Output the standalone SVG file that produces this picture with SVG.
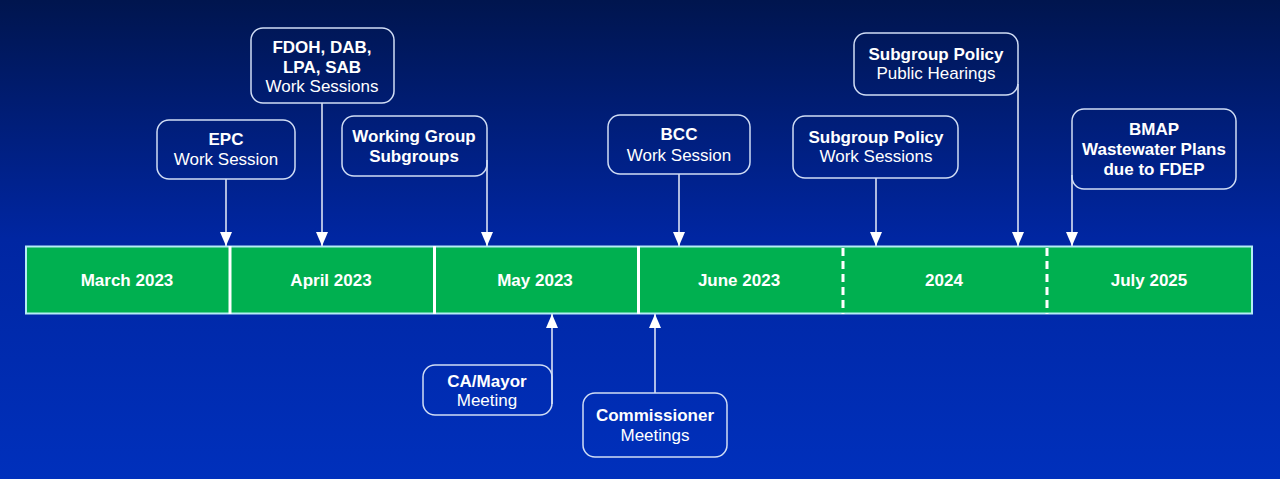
<svg xmlns="http://www.w3.org/2000/svg" width="1280" height="479" viewBox="0 0 1280 479">
<defs>
<linearGradient id="bg" x1="0" y1="0" x2="0" y2="1">
<stop offset="0" stop-color="#00154e"/>
<stop offset="0.5" stop-color="#0026a2"/>
<stop offset="1" stop-color="#0030bc"/>
</linearGradient>
<marker id="ah" markerUnits="userSpaceOnUse" markerWidth="14" markerHeight="12" viewBox="0 0 14 12" refX="14" refY="6" orient="auto-start-reverse">
<path d="M0,0 L14,6 L0,12 Z" fill="#ffffff"/>
</marker>
<style>
text{font-family:"Liberation Sans",Arial,sans-serif;fill:#ffffff;text-anchor:middle;font-size:17px}
.b{font-weight:bold}
.box{fill:none;stroke:#d0ddf5;stroke-width:1.5}
.div{stroke:#ffffff;stroke-width:3}
.dash{stroke:#ffffff;stroke-width:3;stroke-dasharray:8,5}
.con{stroke:#e8eefa;stroke-width:1.5;fill:none}
</style>
</defs>
<rect width="1280" height="479" fill="url(#bg)"/>

<g id="timeline">
<rect x="26" y="246.5" width="1226" height="67" fill="#00b050" stroke="#b4ecf4" stroke-width="2"/>
<line class="div" x1="230" y1="246" x2="230" y2="314"/>
<line class="div" x1="434.5" y1="246" x2="434.5" y2="314"/>
<line class="div" x1="638.5" y1="246" x2="638.5" y2="314"/>
<line class="dash" x1="843" y1="248" x2="843" y2="314"/>
<line class="dash" x1="1047" y1="248" x2="1047" y2="314"/>
<text class="b" x="127" y="286">March 2023</text>
<text class="b" x="331" y="286">April 2023</text>
<text class="b" x="535" y="286">May 2023</text>
<text class="b" x="739" y="286">June 2023</text>
<text class="b" x="944" y="286">2024</text>
<text class="b" x="1149" y="286">July 2025</text>
</g>

<g id="connectors">
<line class="con" x1="226" y1="179" x2="226" y2="246" marker-end="url(#ah)"/>
<line class="con" x1="322" y1="103" x2="322" y2="246" marker-end="url(#ah)"/>
<line class="con" x1="487" y1="160" x2="487" y2="246" marker-end="url(#ah)"/>
<line class="con" x1="679" y1="174" x2="679" y2="246" marker-end="url(#ah)"/>
<line class="con" x1="876" y1="178" x2="876" y2="246" marker-end="url(#ah)"/>
<line class="con" x1="1018" y1="84" x2="1018" y2="246" marker-end="url(#ah)"/>
<line class="con" x1="1072" y1="175" x2="1072" y2="246" marker-end="url(#ah)"/>
<line class="con" x1="552" y1="314" x2="552" y2="404" marker-start="url(#ah)"/>
<line class="con" x1="655" y1="314" x2="655" y2="393" marker-start="url(#ah)"/>
</g>

<g id="epc">
<rect class="box" x="157" y="120" width="138" height="59" rx="12"/>
<text class="b" x="226" y="145">EPC</text>
<text x="226" y="165">Work Session</text>
</g>
<g id="fdoh">
<rect class="box" x="251" y="28" width="143" height="75" rx="12"/>
<text class="b" x="322" y="53">FDOH, DAB,</text>
<text class="b" x="322" y="73">LPA, SAB</text>
<text x="322" y="92">Work Sessions</text>
</g>
<g id="working-group">
<rect class="box" x="342" y="116" width="145" height="60" rx="12"/>
<text class="b" x="414" y="142">Working Group</text>
<text class="b" x="414" y="162">Subgroups</text>
</g>
<g id="bcc">
<rect class="box" x="608" y="115" width="142" height="59" rx="12"/>
<text class="b" x="679" y="140">BCC</text>
<text x="679" y="161">Work Session</text>
</g>
<g id="subgroup-work">
<rect class="box" x="793" y="116" width="165" height="62" rx="12"/>
<text class="b" x="876" y="143">Subgroup Policy</text>
<text x="876" y="162">Work Sessions</text>
</g>
<g id="subgroup-hearings">
<rect class="box" x="854" y="33" width="164" height="62" rx="12"/>
<text class="b" x="936" y="60">Subgroup Policy</text>
<text x="936" y="79">Public Hearings</text>
</g>
<g id="bmap">
<rect class="box" x="1072" y="109" width="164" height="80" rx="12"/>
<text class="b" x="1154" y="135">BMAP</text>
<text class="b" x="1154" y="155">Wastewater Plans</text>
<text class="b" x="1154" y="175">due to FDEP</text>
</g>
<g id="ca-mayor">
<rect class="box" x="423" y="365" width="129" height="50" rx="12"/>
<text class="b" x="487" y="387">CA/Mayor</text>
<text x="487" y="406">Meeting</text>
</g>
<g id="commissioner">
<rect class="box" x="583" y="393" width="144" height="64" rx="12"/>
<text class="b" x="655" y="421">Commissioner</text>
<text x="655" y="441">Meetings</text>
</g>
</svg>
